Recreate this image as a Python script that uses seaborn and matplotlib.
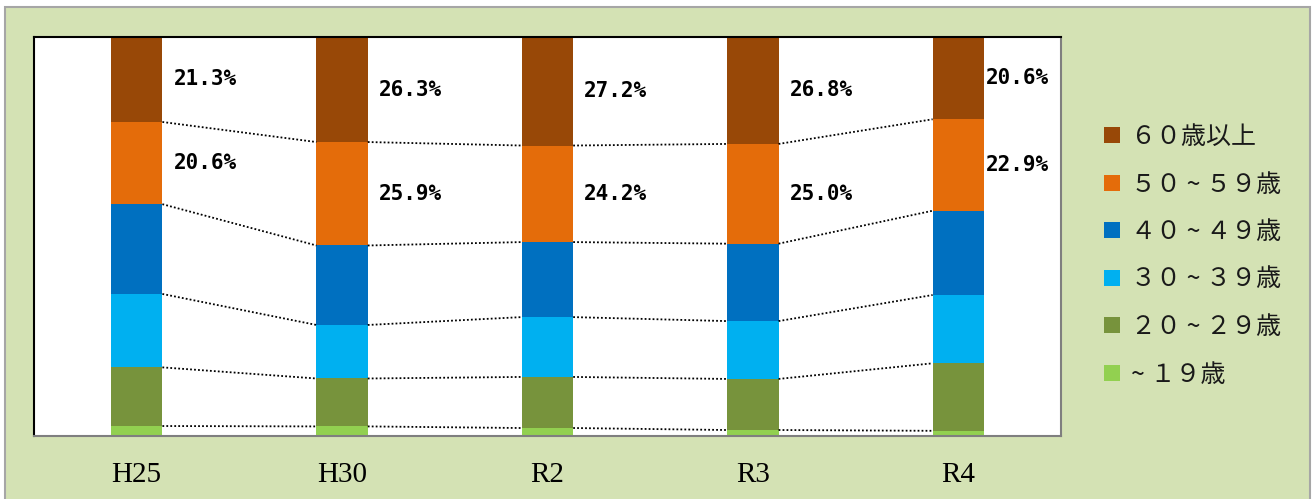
import matplotlib
matplotlib.use("Agg")
import matplotlib.pyplot as plt
from matplotlib.patches import Rectangle
from matplotlib.lines import Line2D
import seaborn as sns
import numpy as np
import pandas as pd

categories = ["H25", "H30", "R2", "R3", "R4"]
groups = ["~ １９歳", "２０ ~ ２９歳", "３０ ~ ３９歳", "４０ ~ ４９歳", "５０ ~ ５９歳", "６０歳以上"]
under19 = [2.5, 2.4, 2.0, 1.5, 1.3]
age20s = [14.7, 12.0, 12.8, 12.8, 16.9]
age30s = [18.4, 13.4, 15.0, 14.5, 17.1]
age40s = [22.5, 19.9, 18.8, 19.4, 21.1]
age50s = [20.6, 25.9, 24.2, 25.0, 22.9]
age60p = [21.3, 26.3, 27.2, 26.8, 20.6]
series = [under19, age20s, age30s, age40s, age50s, age60p]
colors = ["#92D050", "#77933C", "#00B0F0", "#0070C0", "#E46C0A", "#984807"]

W, H = 1313, 499
sns.set_theme(style="white")
fig = plt.figure(figsize=(W / 100, H / 100), dpi=100)
fig.patch.set_facecolor("white")
bg = Rectangle((5 / W, -0.02), 1305 / W, 1 - 7 / H + 0.02,
               transform=fig.transFigure, facecolor="#D4E2B4",
               edgecolor="#A6A6A6", linewidth=1.5, zorder=-10)
fig.patches.append(bg)

ax = fig.add_axes([34 / W, (H - 436) / H, (1061 - 34) / W, (436 - 37) / H])
ax.set_zorder(5)
ax.set_facecolor("white")

vals = np.array(series)
cum = np.cumsum(vals, axis=0)
cum = cum / cum[-1] * 100.0
bw = 0.25

# draw cumulative bars from tallest to shortest
for k in range(len(series) - 1, -1, -1):
    df = pd.DataFrame({"cat": categories, "v": cum[k]})
    sns.barplot(data=df, x="cat", y="v", color=colors[k], width=bw,
                saturation=1, ax=ax, zorder=2, linewidth=0)

# dotted connectors
for k in range(len(series)):
    lev = cum[k]
    for i in range(len(categories) - 1):
        ax.plot([i + bw / 2, i + 1 - bw / 2], [lev[i], lev[i + 1]],
                linestyle=(0, (1, 1.2)), color="black", linewidth=1.3, zorder=3)

# percentage labels for top two groups
for k in (4, 5):
    base = cum[k - 1]
    for i, cat in enumerate(categories):
        yc = base[i] + vals[k][i] / 2
        off = 8 if i < len(categories) - 1 else 1.5
        ax.annotate(f"{vals[k][i]:.1f}%", (i + bw / 2, yc), xytext=(off, 0),
                    textcoords="offset points", ha="left", va="center",
                    fontsize=15, fontweight="bold", family="DejaVu Sans Mono",
                    color="black", zorder=4)

ax.set_xlim(-0.5, len(categories) - 0.5)
ax.set_ylim(0, 100)
ax.set_yticks([])
ax.set_xlabel("")
ax.set_ylabel("")
ax.tick_params(axis="x", length=0, pad=19)
for lab in ax.get_xticklabels():
    lab.set_family("Liberation Serif")
    lab.set_fontsize(21)
    lab.set_color("black")
for s in ("top", "left"):
    ax.spines[s].set_visible(True)
    ax.spines[s].set_color("black")
    ax.spines[s].set_linewidth(1.5)
for s in ("bottom", "right"):
    ax.spines[s].set_visible(True)
    ax.spines[s].set_color("#7F7F7F")
    ax.spines[s].set_linewidth(1.5)

handles = [Line2D([], [], marker="s", linestyle="none", markersize=11,
                  markerfacecolor=colors[k], markeredgewidth=0)
           for k in range(len(series) - 1, -1, -1)]
labels = [groups[k] for k in range(len(series) - 1, -1, -1)]
leg = fig.legend(handles, labels, loc="upper left",
                 bbox_to_anchor=(1101 / W, 1 - 124 / H), frameon=False,
                 prop={"family": ["Noto Sans CJK JP", "DejaVu Sans"], "size": 18},
                 labelspacing=0.86, handletextpad=0.3, handlelength=0.9,
                 borderpad=0, borderaxespad=0)
for t in leg.get_texts():
    t.set_color("#1A1A1A")

fig.savefig("out.png", dpi=100, facecolor=fig.get_facecolor())
